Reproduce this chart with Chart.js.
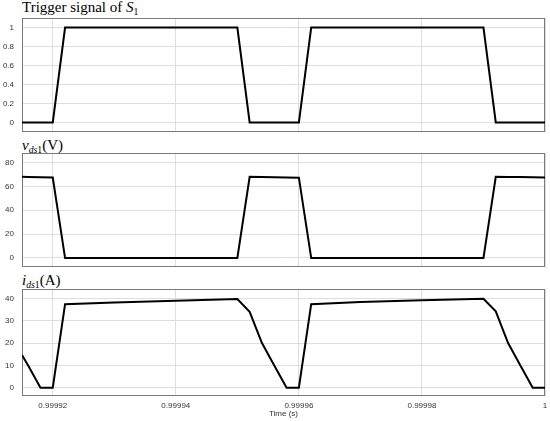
<!DOCTYPE html>
<html>
<head>
<meta charset="utf-8">
<script src="https://cdn.jsdelivr.net/npm/chart.js@4"></script>
<style>
  body { margin: 0; background: #fff; }
  #wrap { position: relative; width: 550px; height: 421px; overflow: hidden; }
  .panel { position: absolute; left: 0; width: 550px; }
  .ttl { position: absolute; left: 22px; font-family: "Liberation Serif", "DejaVu Serif", serif; font-size: 15px; line-height: 15px; color: #000; white-space: nowrap; }
  .ttl sub { font-size: 0.65em; vertical-align: -0.3em; line-height: 0; }
</style>
</head>
<body>
<div id="wrap">
  <div class="ttl" style="top:0px">Trigger signal of <i>S</i><sub>1</sub></div>
  <div class="ttl" style="top:138px"><i>v</i><sub><i>ds</i>1</sub>(V)</div>
  <div class="ttl" style="top:273px"><i>i</i><sub><i>ds</i>1</sub>(A)</div>
  <div class="panel" style="top:17px;height:116px"><canvas id="c1"></canvas></div>
  <div class="panel" style="top:152px;height:116px"><canvas id="c2"></canvas></div>
  <div class="panel" style="top:288px;height:133px"><canvas id="c3"></canvas></div>
</div>
<script>
// time axis (s) and the three waveforms
const timeS = [0.999915, 0.999916, 0.999918, 0.99992, 0.999922, 0.99993, 0.99994, 0.99995, 0.999952, 0.999954, 0.999956,
               0.999958, 0.99996, 0.999962, 0.99997, 0.99998, 0.99999, 0.999992, 0.999994, 0.999996, 0.999998, 1.0];
const trigger = [0, 0, 0, 0, 1, 1, 1, 1, 0, 0, 0, 0, 0, 1, 1, 1, 1, 0, 0, 0, 0, 0];
const vds1 = [68, 67.9, 67.7, 67.4, 0, 0, 0, 0, 68, 67.9, 67.7, 67.5, 67.3, 0, 0, 0, 0, 68, 67.9, 67.8, 67.6, 67.4];
const ids1 = [14.6, 10, 0, 0, 37.4, 38.2, 38.9, 39.7, 34, 20, 10, 0, 0, 37.4, 38.4, 39.2, 39.8, 34.2, 20, 10, 0, 0];

const timeTicks = [0.99992, 0.99994, 0.99996, 0.99998, 1];
const trigTicks = [0, 0.2, 0.4, 0.6, 0.8, 1];
const vTicks = [0, 20, 40, 60, 80];
const iTicks = [0, 10, 20, 30, 40];

const gridCol = '#dedede';
const borderCol = '#7a7a7a';
const tickFont = { family: 'Liberation Sans, Arial, sans-serif', size: 8 };

const frame = {
    id: 'frame',
    beforeDatasetsDraw(chart) {
        const a = chart.chartArea;
        const ctx = chart.ctx;
        ctx.save();
        ctx.strokeStyle = borderCol;
        ctx.lineWidth = 1;
        ctx.strokeRect(a.left + 0.5, a.top + 0.5, a.right - a.left - 1, a.bottom - a.top - 1);
        ctx.restore();
    }
};

function makePanel(id, values, yMin, yMax, yTicks, showX) {
    new Chart(document.getElementById(id), {
        type: 'line',
        data: {
            datasets: [{
                data: timeS.map((t, i) => ({ x: t, y: values[i] })),
                borderColor: '#000',
                borderWidth: 2,
                pointRadius: 0,
                tension: 0,
                fill: false
            }]
        },
        options: {
            responsive: true,
            maintainAspectRatio: false,
            animation: false,
            layout: { padding: { left: 0, right: 5, top: 1, bottom: showX ? 0 : 1 } },
            plugins: { legend: { display: false }, tooltip: { enabled: false } },
            scales: {
                x: {
                    type: 'linear',
                    min: timeS[0],
                    max: 1,
                    afterBuildTicks: s => { s.ticks = timeTicks.map(v => ({ value: v })); },
                    afterFit: s => { s.height = showX ? 25 : 0; s.paddingLeft = 0; s.paddingRight = 0; },
                    grid: { color: gridCol, drawTicks: false },
                    border: { display: false },
                    ticks: {
                        display: showX,
                        padding: 5,
                        maxRotation: 0,
                        color: '#333',
                        font: tickFont,
                        callback: v => String(v)
                    },
                    title: {
                        display: showX,
                        text: 'Time (s)',
                        color: '#333',
                        font: tickFont,
                        padding: { top: 0, bottom: 2 }
                    }
                },
                y: {
                    min: yMin,
                    max: yMax,
                    afterBuildTicks: s => { s.ticks = yTicks.map(v => ({ value: v })); },
                    afterFit: s => { s.width = 22; s.paddingTop = 0; s.paddingBottom = 0; },
                    grid: { color: gridCol, drawTicks: false },
                    border: { display: false },
                    ticks: { padding: 8, color: '#333', font: tickFont, callback: v => String(v) }
                }
            }
        },
        plugins: [frame]
    });
}

makePanel('c1', trigger, -0.1, 1.1, trigTicks, false);
makePanel('c2', vds1, -7.6, 88, vTicks, false);
makePanel('c3', ids1, -3.7, 44.2, iTicks, true);
</script>
</body>
</html>
